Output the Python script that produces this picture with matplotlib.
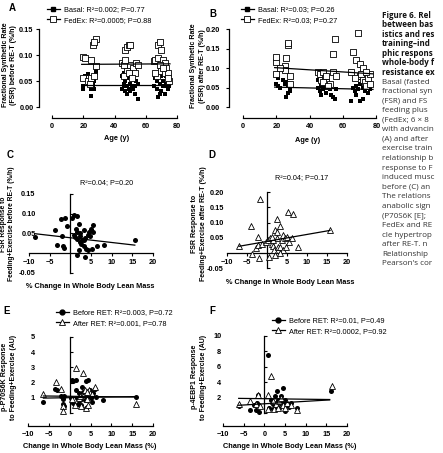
import matplotlib
matplotlib.use("Agg")
import matplotlib.pyplot as plt
from matplotlib.lines import Line2D

plt.rcParams['font.family'] = ['Liberation Sans', 'DejaVu Sans']

# ---------------- data ----------------
# A: FSR before RE-T vs age
age_a_basal = [20, 20, 21, 23, 25, 25, 26, 27, 27, 28, 28, 26, 24,
               45, 45, 46, 46, 47, 47, 48, 48, 49, 49, 50, 50, 51, 52, 53, 54, 55, 55, 46, 48, 50, 53,
               65, 66, 67, 68, 69, 70, 70, 71, 72, 72, 73, 74, 75, 67, 69, 71, 73, 74]
fsr_a_basal = [0.035, 0.040, 0.060, 0.063, 0.022, 0.035, 0.045, 0.050, 0.035, 0.065, 0.070, 0.040, 0.042,
               0.035, 0.060, 0.045, 0.065, 0.030, 0.050, 0.040, 0.025, 0.035, 0.070, 0.045, 0.030, 0.040,
               0.035, 0.025, 0.050, 0.015, 0.045, 0.040, 0.055, 0.060, 0.040,
               0.040, 0.055, 0.035, 0.020, 0.045, 0.030, 0.060, 0.050, 0.025, 0.040, 0.045, 0.035, 0.040,
               0.050, 0.025, 0.040, 0.060, 0.050]
age_a_fedex = [20, 21, 20, 25, 26, 28, 27, 23, 25, 27, 28, 24,
               45, 46, 47, 48, 49, 50, 48, 50, 52, 53, 54, 55, 46, 49, 51, 47,
               65, 66, 67, 68, 68, 69, 70, 70, 71, 72, 72, 73, 74, 75, 66, 69, 74, 71]
fsr_a_fedex = [0.096, 0.095, 0.055, 0.090, 0.120, 0.130, 0.125, 0.050, 0.055, 0.060, 0.078, 0.045,
               0.085, 0.080, 0.110, 0.115, 0.120, 0.120, 0.070, 0.080, 0.075, 0.065, 0.085, 0.080, 0.060,
               0.065, 0.055, 0.090,
               0.088, 0.090, 0.060, 0.095, 0.120, 0.125, 0.110, 0.070, 0.090, 0.065, 0.085, 0.075, 0.065,
               0.050, 0.065, 0.080, 0.055, 0.075]
fit_a_age = [19, 75.5]
fit_a_basal = [0.042, 0.042]
fit_a_fedex = [0.082, 0.083]

# B: FSR after RE-T vs age
age_b_basal = [20, 21, 22, 25, 26, 26, 27, 28, 28, 27, 24, 21,
               45, 45, 46, 47, 47, 48, 48, 49, 50, 50, 51, 52, 53, 54, 55, 56, 46, 49,
               65, 66, 67, 68, 69, 70, 70, 71, 72, 72, 73, 74, 75, 76, 74, 68, 71]
fsr_b_basal = [0.060, 0.055, 0.050, 0.060, 0.025, 0.065, 0.035, 0.050, 0.040, 0.055, 0.070, 0.075,
               0.050, 0.070, 0.040, 0.055, 0.030, 0.060, 0.045, 0.050, 0.035, 0.065, 0.050, 0.045,
               0.030, 0.025, 0.020, 0.045, 0.080, 0.085,
               0.015, 0.050, 0.040, 0.030, 0.045, 0.015, 0.060, 0.105, 0.020, 0.050, 0.040, 0.055,
               0.035, 0.045, 0.060, 0.055, 0.075]
age_b_fedex = [20, 20, 20, 25, 26, 27, 27, 28, 25, 28, 22,
               45, 46, 47, 48, 49, 50, 50, 52, 54, 55, 54, 56, 48, 51,
               65, 66, 68, 69, 70, 70, 71, 72, 72, 73, 74, 75, 76, 76, 67, 74]
fsr_b_fedex = [0.115, 0.128, 0.085, 0.105, 0.125, 0.160, 0.165, 0.080, 0.095, 0.060, 0.100,
               0.090, 0.085, 0.070, 0.090, 0.075, 0.065, 0.080, 0.060, 0.135, 0.175, 0.090, 0.080,
               0.065, 0.055,
               0.090, 0.140, 0.120, 0.190, 0.110, 0.080, 0.085, 0.070, 0.100, 0.065, 0.055, 0.075,
               0.085, 0.060, 0.075, 0.090]
fit_b_age = [19, 78]
fit_b_basal = [0.051, 0.045]
fit_b_fedex = [0.101, 0.085]

# C: FSR response before RE-T vs % change in lean mass
lean_c = [-8.5, -3.6, -3.3, -2.1, -1.8, -1.6, -2.2, -1.4, -0.8, 0.5, 0.9, 1.7, 2.0, 1.4, 1.7, 0.8,
          1.2, 1.7, 2.4, 2.8, 2.3, 2.6, 3.2, 3.2, 3.6, 3.9, 4.2, 4.4, 4.8, 4.2, 5.2, 5.4, 5.6, 4.9,
          6.4, 8.1, 1.5, 3.6, 15.6, 3.2, 2.4, 2.0]
fsr_c = [0.040, 0.058, 0.020, 0.042, 0.019, 0.013, 0.086, 0.090, 0.068, 0.090, 0.096, 0.095,
         0.075, 0.060, 0.054, 0.046, 0.040, 0.035, 0.043, 0.034, 0.029, 0.023, 0.034, 0.019,
         0.037, 0.011, 0.046, 0.054, 0.042, 0.008, 0.011, 0.070, 0.054, 0.062, 0.019, 0.021,
         -0.004, -0.010, 0.034, 0.058, 0.050, 0.008]
fit_c_lean = [-8.5, 15.6]
fit_c_fsr = [0.049, 0.020]

# D: FSR response after RE-T vs % change in lean mass
lean_d = [-6.9, -4.1, -3.8, -2.7, -2.3, -2.2, -1.9, -1.75, -1.3, -0.25, 0.6, 0.3, 0.8, 1.2, 1.4,
          1.8, 2.0, 2.4, 2.4, 2.6, 2.8, 3.3, 3.3, 3.7, 3.9, 4.1, 4.5, 4.8, 5.0, 5.3, 6.4, 5.6, 6.2,
          7.8, 15.75, 1.6, 1.2, 3.3, 2.0]
fsr_d = [0.023, 0.089, -0.002, 0.015, 0.025, 0.054, -0.017, 0.176, 0.031, 0.037, -0.014, 0.042,
         0.048, 0.031, 0.022, 0.011, 0.075, 0.113, 0.070, 0.048, 0.020, 0.089, 0.020, 0.042,
         0.059, 0.011, 0.048, 0.020, 0.053, 0.136, 0.129, 0.037, 0.048, 0.020, 0.075, 0.042,
         0.053, -0.001, -0.006]
fit_d_lean = [-7.0, 15.75]
fit_d_fsr = [0.022, 0.074]

# E: p-P70S6K response
lean_e_before = [-6.3, -3.6, -3.0, -2.1, -1.7, -1.5, -1.4, -1.3, 0.4, 0.6, 0.9, 1.4, 1.6, 1.7, 1.9,
                 2.2, 2.4, 2.8, 3.0, 3.3, 3.6, 3.8, 4.0, 4.4, 4.6, 4.8, 5.2, 5.4, 5.7, 6.0, 6.4, 8.0,
                 15.8, 0.9, 2.8, 4.2]
p70_e_before = [0.70, 1.55, 1.51, 1.14, 0.90, 0.60, 0.45, 1.10, 0.96, 2.16, 2.12, 2.20, 1.51, 0.96,
                0.59, 1.29, 0.85, 1.07, 1.72, 1.40, 0.85, 0.30, 2.12, 2.20, 1.11, 1.51, 0.96, 0.74,
                1.29, 1.55, 1.03, 0.85, 1.07, 0.63, 0.52, 1.18]
lean_e_after = [-6.3, -3.4, -2.0, -1.5, -1.5, 0.6, 1.4, 2.2, 2.8, 3.3, 3.6, 3.8, 4.2, 4.4, 4.6, 4.9,
                5.4, 6.0, 4.2, 16.0, 2.4, 1.2]
p70_e_after = [1.25, 2.06, 1.55, 0.43, 0.10, 0.90, 2.95, 0.96, 0.47, 2.60, 1.51, 0.35, 0.90, 0.52,
               1.51, 1.29, 1.25, 1.72, 1.40, 0.59, 1.11, 0.52]
fit_e_lean = [-6.3, 15.8]
fit_e_before = [0.98, 1.08]
fit_e_after = [1.12, 1.05]

# F: p-4EBP1 response
lean_f_before = [-6.2, -3.5, -2.4, -2.1, -1.8, -1.6, -1.4, 0.8, 1.2, 1.5, 2.0, 2.1, 2.5, 2.8, 2.9,
                 3.1, 3.3, 3.5, 3.7, 4.1, 4.5, 4.6, 4.9, 5.1, 5.4, 5.9, 6.4, 8.0, 16.2]
ebp_f_before = [0.9, 0.35, 1.0, 0.45, 1.3, 2.3, 0.1, 7.55, 0.66, 1.74, 1.2, 0.5, 2.18, 1.3, 0.66,
                2.8, 1.7, 0.6, 1.3, 2.2, 3.2, 1.3, 0.3, 1.7, 1.1, 0.8, 1.3, 0.7, 2.8]
lean_f_after = [-6.2, -3.5, -2.1, -1.6, -1.0, 0.9, 1.5, 2.0, 2.3, 2.9, 3.5, 4.1, 4.5, 5.1, 5.4, 6.4,
                8.0, 16.3, 0.8, 3.3]
ebp_f_after = [1.15, 1.6, 1.2, 2.4, 0.9, 2.3, 4.8, 1.5, 0.5, 1.2, 1.5, 2.0, 1.1, 0.7, 1.3, 1.0, 0.4,
               3.5, 0.5, 0.7]
fit_f_lean = [-6.2, 15.8]
fit_f_before = [1.0, 1.7]
fit_f_after = [1.9, 1.75]

# caption column, as much as is visible at the right edge
caption_bold = ["Figure 6. Rel", "between bas", "istics and res", "training\u2013ind",
                "phic respons", "whole-body f", "resistance ex"]
caption_plain = ["Basal (fasted", "fractional syn", "(FSR) and FS", "feeding plus",
                 "(FedEx; 6 \u00d7 8", "with advancin", "(A) and after", "exercise train",
                 "relationship b", "response to F", "induced musc", "before (C) an",
                 "The relations", "anabolic sign", "(P70S6K [E];", "FedEx and RE",
                 "cle hypertrop", "after RE-T. n", "Relationship", "Pearson's cor"]

# ---------------- figure ----------------
W, H = 443, 453
fig = plt.figure(figsize=(W / 100, H / 100), dpi=100)


def make_ax(xpix, xval, ypix, yval, box):
    l, t, r, b = box
    sx = (xval[1] - xval[0]) / (xpix[1] - xpix[0])
    sy = (yval[1] - yval[0]) / (ypix[1] - ypix[0])
    ax = fig.add_axes([l / W, 1 - b / H, (r - l) / W, (b - t) / H])
    ax.set_xlim(xval[0] + (l - xpix[0]) * sx, xval[0] + (r - xpix[0]) * sx)
    ax.set_ylim(yval[0] + (b - ypix[0]) * sy, yval[0] + (t - ypix[0]) * sy)
    ax.patch.set_alpha(0)
    for s in ['top', 'right']:
        ax.spines[s].set_visible(False)
    for s in ['left', 'bottom']:
        ax.spines[s].set_linewidth(0.9)
    return ax


def style(ax, xspine, xb, yspine, yb, xdir, ydir, xpad, ypad):
    ax.spines['left'].set_position(('data', xspine))
    ax.spines['left'].set_bounds(*yb)
    ax.spines['bottom'].set_position(('data', yspine))
    ax.spines['bottom'].set_bounds(*xb)
    ax.tick_params(axis='x', direction=xdir, length=2.5, width=0.8, pad=xpad, labelsize=5.3)
    ax.tick_params(axis='y', direction=ydir, length=2.5, width=0.8, pad=ypad, labelsize=5.3)
    for lab in ax.get_xticklabels() + ax.get_yticklabels():
        lab.set_fontweight('bold')


def ftext(x, y, s, **kw):
    fig.text(x / W, 1 - y / H, s, **kw)


sq_k = dict(marker='s', s=12, color='black', lw=0, clip_on=False, zorder=3)
sq_o = dict(marker='s', s=18, facecolor='white', edgecolor='black', linewidths=0.6, clip_on=False, zorder=3)
ci_k = dict(marker='o', s=13, color='black', lw=0, clip_on=False, zorder=3)
tr_o = dict(marker='^', s=18, facecolor='white', edgecolor='black', linewidths=0.6, clip_on=False, zorder=4)

# ---- A ----
axA = make_ax((52, 177), (0, 80), (107, 29), (0, 0.15), (30, 20, 185, 125))
axA.scatter(age_a_basal, fsr_a_basal, **sq_k)
axA.scatter(age_a_fedex, fsr_a_fedex, **sq_o)
axA.plot(fit_a_age, fit_a_basal, color='black', lw=0.9, zorder=5)
axA.plot(fit_a_age, fit_a_fedex, color='black', lw=0.9, zorder=5)
axA.set_xticks([0, 20, 40, 60, 80])
axA.set_yticks([0, 0.05, 0.10, 0.15])
axA.set_yticklabels(['0.00', '0.05', '0.10', '0.15'])
style(axA, -8.3, (0, 80), -0.021, (0, 0.15), 'in', 'out', 3.5, 1.5)

# ---- B ----
axB = make_ax((243, 343), (0, 60), (107, 29), (0, 0.20), (220, 20, 390, 125))
axB.scatter(age_b_basal, fsr_b_basal, **sq_k)
axB.scatter(age_b_fedex, fsr_b_fedex, **sq_o)
axB.plot(fit_b_age, fit_b_basal, color='black', lw=0.9, zorder=5)
axB.plot(fit_b_age, fit_b_fedex, color='black', lw=0.9, zorder=5)
axB.set_xticks([0, 20, 40, 60, 80])
axB.set_yticks([0, 0.05, 0.10, 0.15, 0.20])
axB.set_yticklabels(['0.00', '0.05', '0.10', '0.15', '0.20'])
style(axB, -8.4, (0, 80), -0.028, (0, 0.20), 'in', 'out', 3.5, 4)

# ---- C ----
axC = make_ax((29, 153), (-10, 20), (253, 194), (0, 0.15), (20, 180, 165, 280))
axC.scatter(lean_c, fsr_c, **ci_k)
axC.plot(fit_c_lean, fit_c_fsr, color='black', lw=0.9, zorder=5)
axC.set_xticks([-10, -5, 5, 10, 15, 20])
axC.set_yticks([-0.05, 0.05, 0.10, 0.15])
axC.set_yticklabels(['-0.05', '0.05', '0.10', '0.15'])
style(axC, 0, (-10, 20), 0, (-0.05, 0.15), 'out', 'in', 1.5, 25)

# ---- D ----
axD = make_ax((227, 347), (-10, 20), (253, 192), (0, 0.20), (215, 175, 360, 280))
axD.scatter(lean_d, fsr_d, **tr_o)
axD.plot(fit_d_lean, fit_d_fsr, color='black', lw=0.9, zorder=5)
axD.set_xticks([-10, -5, 5, 10, 15, 20])
axD.set_yticks([-0.05, 0.05, 0.10, 0.15, 0.20])
axD.set_yticklabels(['-0.05', '0.05', '0.10', '0.15', '0.20'])
style(axD, 0, (-10, 20), 0, (-0.05, 0.20), 'out', 'in', 1.5, 31)

# ---- E ----
axE = make_ax((28, 153), (-10, 20), (413, 337), (0, 5), (20, 330, 165, 432))
axE.scatter(lean_e_before, p70_e_before, **ci_k)
axE.scatter(lean_e_after, p70_e_after, **tr_o)
axE.plot(fit_e_lean, fit_e_before, color='black', lw=0.9, zorder=5)
axE.plot(fit_e_lean, fit_e_after, color='black', lw=0.9, zorder=5)
axE.set_xticks([-10, -5, 0, 5, 10, 15, 20])
axE.set_yticks([0, 1, 2, 3, 4, 5])
axE.set_yticklabels(['', '1', '2', '3', '4', '5'])
style(axE, 0, (-10, 20), -0.86, (0, 5), 'in', 'in', 3.5, 25)

# ---- F ----
axF = make_ax((223, 347), (-10, 20), (413, 336), (0, 10), (215, 330, 360, 432))
axF.scatter(lean_f_before, ebp_f_before, **ci_k)
axF.scatter(lean_f_after, ebp_f_after, **tr_o)
axF.plot(fit_f_lean, fit_f_before, color='black', lw=0.9, zorder=5)
axF.plot(fit_f_lean, fit_f_after, color='black', lw=0.9, zorder=5)
axF.set_xticks([-10, -5, 0, 5, 10, 15, 20])
axF.set_yticks([0, 2, 4, 6, 8, 10])
axF.set_yticklabels(['', '2', '4', '6', '8', '10'])
style(axF, 0, (-10, 20), -1.69, (0, 10), 'in', 'in', 3.5, 31)

# ---- legends ----
h_sqk = Line2D([], [], color='black', lw=0.9, marker='s', markersize=3.3)
h_sqo = Line2D([], [], color='black', lw=0.9, marker='s', markersize=3.8, mfc='white', mew=0.6)
h_cik = Line2D([], [], color='black', lw=0.9, marker='o', markersize=3.5)
h_tro = Line2D([], [], color='black', lw=0.9, marker='^', markersize=4, mfc='white', mew=0.6)
leg_kw = dict(loc='upper left', bbox_transform=fig.transFigure, frameon=False, fontsize=5.3,
              handlelength=1.7, handletextpad=0.6, labelspacing=0.45, borderpad=0, borderaxespad=0)
axA.legend([h_sqk, h_sqo], ['Basal: R\u00b2=0.002; P=0.77', 'FedEx: R\u00b2=0.0005; P=0.88'],
           bbox_to_anchor=(47 / W, 1 - 6 / H), **leg_kw)
axB.legend([h_sqk, h_sqo], ['Basal: R\u00b2=0.03; P=0.26', 'FedEx: R\u00b2=0.03; P=0.27'],
           bbox_to_anchor=(241 / W, 1 - 6 / H), **leg_kw)
axE.legend([h_cik, h_tro], ['Before RET: R\u00b2=0.003, P=0.72', 'After RET: R\u00b2=0.001, P=0.78'],
           bbox_to_anchor=(56 / W, 1 - 309 / H), **leg_kw)
axF.legend([h_cik, h_tro], ['Before RET: R\u00b2=0.01, P=0.49', 'After RET: R\u00b2=0.0002, P=0.92'],
           bbox_to_anchor=(272 / W, 1 - 317 / H), **leg_kw)

# ---- titles, labels ----
ftext(107, 183, 'R\u00b2=0.04; P=0.20', fontsize=5.2, ha='center', va='center')
ftext(302, 178, 'R\u00b2=0.04; P=0.17', fontsize=5.2, ha='center', va='center')

for x, y, s in [(12, 8, 'A'), (213, 14, 'B'), (10, 155, 'C'), (212, 155, 'D'), (7, 311, 'E'), (212, 311, 'F')]:
    ftext(x, y, s, fontsize=7, fontweight='bold', ha='center', va='center')

xl = dict(fontsize=5.3, fontweight='bold', ha='center', va='center')
ftext(117, 139, 'Age (y)', **xl)
ftext(308, 140, 'Age (y)', **xl)
ftext(90, 286, '% Change in Whole Body Lean Mass', **xl)
ftext(290, 283, '% Change in Whole Body Lean Mass', **xl)
ftext(90, 447, 'Change in Whole Body Lean Mass (%)', **xl)
ftext(290, 447, 'Change in Whole Body Lean Mass (%)', **xl)

yl = dict(fontsize=5.0, fontweight='bold', ha='center', va='center', rotation=90, linespacing=1.3)
ftext(9.5, 65, 'Fractional Synthetic Rate\n(FSR) before RE-T (%/h)', **yl)
ftext(198, 66, 'Fractional Synthetic Rate\n(FSR) after RE-T (%/h)', **yl)
ftext(8, 224, 'FSR Response to\nFeeding+Exercise before RE-T (%/h)', fontsize=4.8, fontweight='bold',
      ha='center', va='center', rotation=90, linespacing=1.2)
ftext(199, 224, 'FSR Response to\nFeeding+Exercise after RE-T (%/h)', **yl)
ftext(9, 377, 'p-P70S6K Response\nto Feeding+Exercise (AU)', **yl)
ftext(199, 377, 'p-4EBP1 Response\nto Feeding+Exercise (AU)', **yl)

# ---- caption ----
for i, s in enumerate(caption_bold + caption_plain):
    bold = i < len(caption_bold)
    ftext(382, 15 + i * 9.57, s, fontsize=5.8, family='Open Sans', ha='left', va='center',
          fontweight='bold' if bold else 'normal', color='#111111' if bold else '#333333')

fig.savefig('out.png', dpi=100)
